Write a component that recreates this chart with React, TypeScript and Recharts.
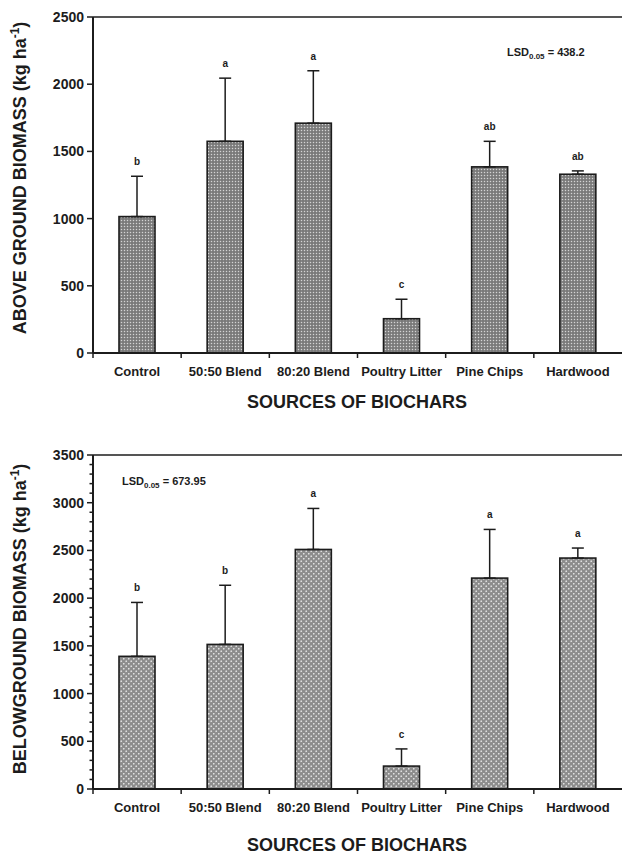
import React from "react";
import { BarChart, Bar, XAxis, YAxis, ErrorBar, ReferenceLine } from "recharts";

const categories = ["Control", "50:50 Blend", "80:20 Blend", "Poultry Litter", "Pine Chips", "Hardwood"];
const aboveMeans = [1015, 1575, 1710, 255, 1385, 1330];
const aboveErrors = [300, 470, 390, 145, 190, 25];
const aboveLetters = ["b", "a", "a", "c", "ab", "ab"];
const belowMeans = [1390, 1515, 2510, 240, 2210, 2420];
const belowErrors = [565, 620, 430, 180, 510, 105];
const belowLetters = ["b", "b", "a", "c", "a", "a"];
const aboveTicks = [0, 500, 1000, 1500, 2000, 2500];
const belowTicks = [
  0, 100, 200, 300, 400, 500, 600, 700, 800, 900, 1000, 1100, 1200, 1300, 1400, 1500, 1600, 1700,
  1800, 1900, 2000, 2100, 2200, 2300, 2400, 2500, 2600, 2700, 2800, 2900, 3000, 3100, 3200, 3300, 3400, 3500,
];
const aboveLSD = "438.2";
const belowLSD = "673.95";

const FONT = "'Liberation Sans', Arial, Helvetica, sans-serif";
const INK = "#1c1c1c";
const PLOT_LEFT = 93;

const aboveData = categories.map((name, i) => ({
  name,
  mean: aboveMeans[i],
  err: [0, aboveErrors[i]],
  e: aboveErrors[i],
  letter: aboveLetters[i],
}));
const belowData = categories.map((name, i) => ({
  name,
  mean: belowMeans[i],
  err: [0, belowErrors[i]],
  e: belowErrors[i],
  letter: belowLetters[i],
}));

const makeShape = (fill: string) => (props: any) => {
  const { x, y, width, height, payload } = props;
  const ppu = payload.mean ? height / payload.mean : 0;
  const errTop = y - payload.e * ppu;
  return (
    <g>
      <rect x={x} y={y} width={width} height={height} fill={fill} stroke={INK} strokeWidth={1.6} />
      <text
        x={x + width / 2}
        y={errTop - 11}
        textAnchor="middle"
        fontSize={10}
        fontWeight="bold"
        fontFamily={FONT}
        fill={INK}
      >
        {payload.letter}
      </text>
    </g>
  );
};

const renderYTick = (p: any) => {
  const v = p.payload.value;
  const major = v % 500 === 0;
  return (
    <g>
      <line x1={PLOT_LEFT} x2={PLOT_LEFT - (major ? 6 : 3.5)} y1={p.y} y2={p.y} stroke={INK} strokeWidth={1.5} />
      {major && (
        <text x={84} y={p.y} dy="0.36em" textAnchor="end" fontSize={14} fontWeight="bold" fontFamily={FONT} fill={INK}>
          {v}
        </text>
      )}
    </g>
  );
};

const makeXTick = (axisY: number) => (p: any) => {
  const { x, payload } = p;
  const half = payload && typeof payload.offset === "number" && payload.offset > 0 ? payload.offset : 44;
  return (
    <g>
      <line x1={x - half} x2={x - half} y1={axisY} y2={axisY + 5} stroke={INK} strokeWidth={1.5} />
      <text x={x} y={axisY + 23} textAnchor="middle" fontSize={13} fontWeight="bold" fontFamily={FONT} fill={INK}>
        {payload.value}
      </text>
    </g>
  );
};

const YTitle = ({ cy, main }: { cy: number; main: string }) => (
  <text
    transform={`translate(26, ${cy}) rotate(-90)`}
    textAnchor="middle"
    fontSize={18}
    fontWeight="bold"
    fontFamily={FONT}
    fill={INK}
  >
    <tspan>{main} (kg ha</tspan>
    <tspan fontSize={12} dy={-7}>-1</tspan>
    <tspan dy={7}>)</tspan>
  </text>
);

const LSDText = ({ x, y, value }: { x: number; y: number; value: string }) => (
  <text x={x} y={y} fontSize={11} fontWeight="bold" fontFamily={FONT} fill={INK}>
    <tspan>LSD</tspan>
    <tspan fontSize={8} dy={3}>0.05</tspan>
    <tspan dy={-3}> = {value}</tspan>
  </text>
);

export default function App() {
  return (
    <div style={{ position: "absolute", left: 0, top: 0, width: 622, height: 854, background: "#fff" }}>
      <div style={{ position: "absolute", left: 0, top: 0 }}>
        <BarChart width={622} height={430} data={aboveData} margin={{ top: 17, right: 0, left: 23, bottom: 47 }}>
          <defs>
            <pattern id="dotsA" width="3" height="3" patternUnits="userSpaceOnUse">
              <rect width="3" height="3" fill="#7a7a7a" />
              <circle cx="1.5" cy="1.5" r="0.75" fill="#d4d4d4" />
            </pattern>
          </defs>
          <XAxis
            dataKey="name"
            height={30}
            axisLine={{ stroke: INK, strokeWidth: 2 }}
            tickLine={false}
            tickSize={5}
            tick={makeXTick(353)}
            interval={0}
          />
          <YAxis
            type="number"
            width={70}
            domain={[0, 2500]}
            ticks={aboveTicks}
            interval={0}
            axisLine={{ stroke: INK, strokeWidth: 2 }}
            tickLine={false}
            tick={renderYTick}
          />
          <ReferenceLine y={2500} stroke={INK} strokeWidth={1.5} />
          <Bar dataKey="mean" barSize={36} isAnimationActive={false} shape={makeShape("url(#dotsA)")}>
            <ErrorBar dataKey="err" direction="y" width={6} stroke={INK} strokeWidth={1.5} />
          </Bar>
          <YTitle cy={178} main="ABOVE GROUND BIOMASS" />
          <text x={357} y={408} textAnchor="middle" fontSize={18} fontWeight="bold" fontFamily={FONT} fill={INK}>
            SOURCES OF BIOCHARS
          </text>
          <LSDText x={507} y={56} value={aboveLSD} />
        </BarChart>
      </div>
      <div style={{ position: "absolute", left: 0, top: 430 }}>
        <BarChart width={622} height={424} data={belowData} margin={{ top: 25, right: 0, left: 23, bottom: 35 }}>
          <defs>
            <pattern id="circB" width="5" height="5" patternUnits="userSpaceOnUse">
              <rect width="5" height="5" fill="#8c8c8c" />
              <circle cx="1.25" cy="1.25" r="1.3" fill="#e2e2e2" stroke="#6e6e6e" strokeWidth="0.6" />
              <circle cx="3.75" cy="3.75" r="1.3" fill="#e2e2e2" stroke="#6e6e6e" strokeWidth="0.6" />
            </pattern>
          </defs>
          <XAxis
            dataKey="name"
            height={30}
            axisLine={{ stroke: INK, strokeWidth: 2 }}
            tickLine={false}
            tickSize={5}
            tick={makeXTick(359)}
            interval={0}
          />
          <YAxis
            type="number"
            width={70}
            domain={[0, 3500]}
            ticks={belowTicks}
            interval={0}
            axisLine={{ stroke: INK, strokeWidth: 2 }}
            tickLine={false}
            tick={renderYTick}
          />
          <ReferenceLine y={3500} stroke={INK} strokeWidth={1.5} />
          <Bar dataKey="mean" barSize={36} isAnimationActive={false} shape={makeShape("url(#circB)")}>
            <ErrorBar dataKey="err" direction="y" width={6} stroke={INK} strokeWidth={1.5} />
          </Bar>
          <YTitle cy={189} main="BELOWGROUND BIOMASS" />
          <text x={357} y={421} textAnchor="middle" fontSize={18} fontWeight="bold" fontFamily={FONT} fill={INK}>
            SOURCES OF BIOCHARS
          </text>
          <LSDText x={122} y={55} value={belowLSD} />
        </BarChart>
      </div>
    </div>
  );
}
